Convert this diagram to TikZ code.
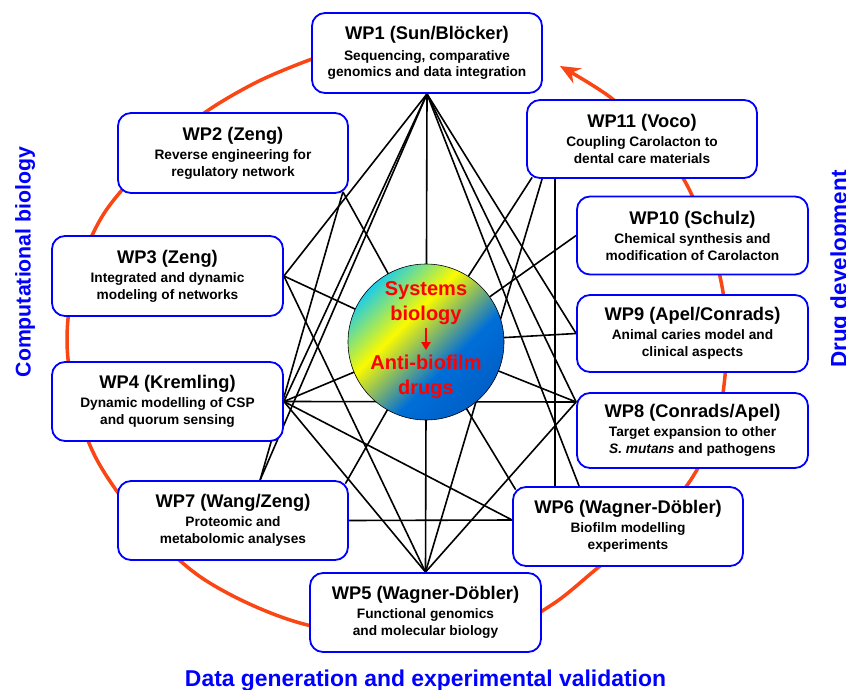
\documentclass[tikz,border=0pt]{standalone}
\usepackage{fontspec}
\setmainfont{Liberation Sans}
\usetikzlibrary{arrows.meta,calc}
\pgfdeclarelayer{back}
\pgfsetlayers{back,main}
\definecolor{wpblue}{RGB}{0,0,255}
\definecolor{arcred}{RGB}{250,70,20}
\definecolor{ballcyan}{RGB}{30,205,230}
\definecolor{ballyellow}{RGB}{250,250,0}
\definecolor{ballblue}{RGB}{0,110,215}
\definecolor{balldeep}{RGB}{0,95,200}
% colour ramp of the central ball, from bottom (blue) to top (cyan)
\pgfdeclareverticalshading{ballramp}{100bp}{color(0bp)=(balldeep); color(25bp)=(balldeep);
  color(40bp)=(ballblue); color(59bp)=(ballyellow); color(75bp)=(ballcyan); color(100bp)=(ballcyan)}
\newcommand\wptitle{\fontsize{18.3}{21}\selectfont\bfseries}
\newcommand\wpbody{\fontsize{13.7}{16.7}\selectfont\bfseries}

\begin{document}
\begin{tikzpicture}[x=1pt,y=-1pt,
  wpbox/.style={draw=wpblue, line width=1.8pt, fill=white, rounded corners=13pt,
    minimum width=230pt, minimum height=80pt, align=center, inner sep=0pt, font=\wpbody},
  link/.style={line width=1.6pt, black},
  cyclearrow/.style={arcred, line width=3.5pt, -{Stealth[length=20pt,width=17pt]}},
  ctext/.style={text=red, font=\fontsize{20}{24.5}\selectfont\bfseries, align=center, inner sep=0pt},
  sidelabel/.style={text=wpblue, font=\fontsize{22.5}{26}\selectfont\bfseries, inner sep=0pt}]
\useasboundingbox (0,0) rectangle (846,690);
\clip (0,0) rectangle (846,690);

% work package boxes
\node[wpbox] (wp1) at (427,53) {{\wptitle WP1 (Sun/Blöcker)}\\[4pt]Sequencing, comparative\\genomics and data integration};
\node[wpbox] (wp2) at (233,153) {{\wptitle WP2 (Zeng)}\\[2.5pt]Reverse engineering for\\regulatory network};
\node[wpbox, minimum width=231pt] (wp3) at (167.5,276) {{\wptitle WP3 (Zeng)}\\[2.5pt]Integrated and dynamic\\modeling of networks};
\node[wpbox, minimum width=231pt, minimum height=79pt] (wp4) at (167.5,401.5) {{\wptitle WP4 (Kremling)}\\[2.5pt]Dynamic modelling of CSP\\and quorum sensing};
\node[wpbox, minimum height=79pt] (wp7) at (233,520.5) {{\wptitle WP7 (Wang/Zeng)}\\[2.5pt]Proteomic and\\metabolomic analyses};
\node[wpbox, minimum width=231pt, minimum height=79pt] (wp5) at (425.5,612.5) {{\wptitle WP5 (Wagner-Döbler)}\\[2.5pt]Functional genomics\\and molecular biology};
\node[wpbox, minimum height=79pt] (wp6) at (628,526.5) {{\wptitle WP6 (Wagner-Döbler)}\\[2.5pt]Biofilm modelling\\experiments};
\node[wpbox, minimum width=231pt, minimum height=75pt] (wp8) at (692.5,430.5) {{\wptitle WP8 (Conrads/Apel)}\\[2.5pt]Target expansion to other\\\textit{S. mutans} and pathogens};
\node[wpbox, minimum width=231pt, minimum height=77pt] (wp9) at (692.5,333.5) {{\wptitle WP9 (Apel/Conrads)}\\[2.5pt]Animal caries model and\\clinical aspects};
\node[wpbox, minimum width=231pt, minimum height=78pt] (wp10) at (692.5,235.5) {{\wptitle WP10 (Schulz)}\\[2.5pt]Chemical synthesis and\\modification of Carolacton};
\node[wpbox, minimum height=78pt] (wp11) at (642,139) {{\wptitle WP11 (Voco)}\\[2.5pt]Coupling Carolacton to\\dental care materials};

% central ball
\node[circle, draw=black, line width=0.6pt, minimum size=156pt, inner sep=0pt,
  shading=ballramp, shading angle=45] (ball) at (426,342) {};
\node[ctext] (sys) at (426,303) {Systems\\biology};
\node[ctext] (anti) at (426,377) {Anti-biofilm\\drugs};
\draw[red, line width=1.8pt, -{Triangle[length=8pt,width=9pt]}, shorten <=3pt, shorten >=5pt] (sys.south) -- (anti.north);

% side labels
\node[sidelabel, rotate=90, anchor=north, font=\fontsize{21.3}{25}\selectfont\bfseries] (lcomp) at (15,262) {Computational biology};
\node[sidelabel, rotate=90, anchor=north] (ldrug) at (830,269) {Drug development};
\node[sidelabel, anchor=base, font=\fontsize{22.9}{26}\selectfont\bfseries] (ldata) at (425.5,686) {Data generation and experimental validation};

% attachment points of the links
\coordinate (h1) at (wp1.south);
\coordinate (h2) at ($(wp2.south east)+(-6,-2)$);
\coordinate (h3) at (wp3.east);
\coordinate (h4) at (wp4.east);
\coordinate (h5) at (wp5.north);
\coordinate (h6a) at ($(wp6.west)+(0,-6.5)$);
\coordinate (h6b) at ($(wp6.north west)+(3.5,3.5)$);
\coordinate (h6c) at ($(wp6.north west)+(43,0)$);
\coordinate (h6d) at ($(wp6.north west)+(67,0)$);
\coordinate (h7a) at ($(wp7.north west)+(143,0)$);
\coordinate (h7b) at ($(wp7.north east)+(-3.5,3.5)$);
\coordinate (h7c) at (wp7.east);
\coordinate (h8) at ($(wp8.west)+(0,-28.5)$);
\coordinate (h9) at (wp9.west);
\coordinate (h10) at (wp10.west);
\coordinate (h11a) at ($(wp11.south west)+(6,-1.5)$);
\coordinate (h11b) at ($(wp11.south west)+(16,0)$);
\coordinate (h11c) at ($(wp11.south west)+(29,0)$);
\coordinate (hc) at (ball.center);

\begin{pgfonlayer}{back}
  % cycle from computational biology through data generation to drug development
  \draw[cyclearrow] plot[smooth, tension=0.55] coordinates {
    (370,40) (312,59) (255,83) (200,116) (150,160) (103,215) (75,280) (67,340)
    (75,400) (97,460) (140,520) (205,580) (300,623) (420,641) (500,631) (553,604)
    (600,566) (650,527) (692,478) (718,420) (727,340) (718,268) (688,187)
    (650,135) (610,97) (560,66)};
  % links between the work packages
  \foreach \a/\b in {h1/h3, h1/h4, h1/h7a, h1/h5, h1/h6d, h1/h8, h1/h9,
                     h5/h4, h5/h3, h5/h11b, h5/h8,
                     hc/h2, hc/h3, hc/h4, hc/h7b, hc/h6b, hc/h8, hc/h9, hc/h10, hc/h11a,
                     h4/h8, h4/h6a, h7c/h6a, h2/h7a, h11c/h6c}
    \draw[link] (\a) -- (\b);
\end{pgfonlayer}
\end{tikzpicture}
\end{document}
